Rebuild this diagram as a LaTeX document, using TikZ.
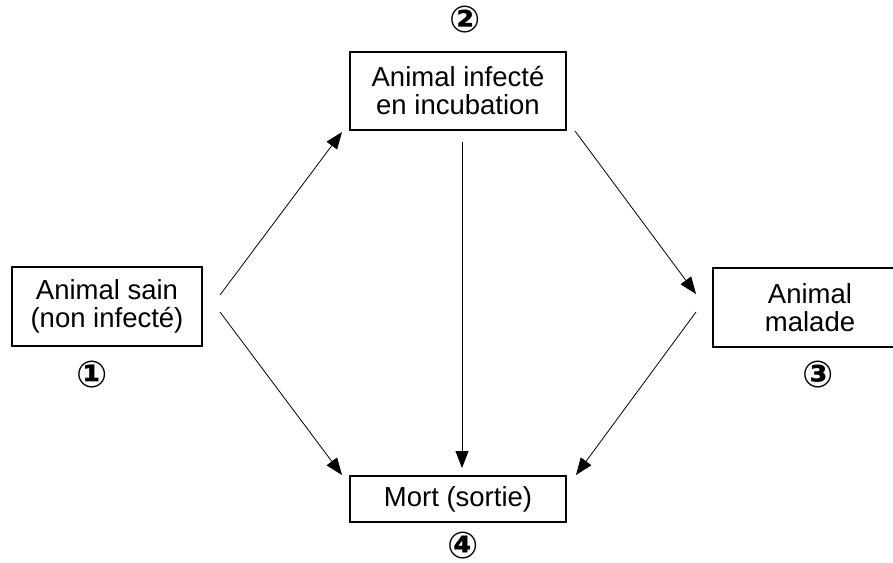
\documentclass[tikz,border=0pt]{standalone}
\usepackage{fontspec}
\setmainfont{Liberation Sans}
\newfontfamily\circfont{DejaVu Sans Bold}
\usetikzlibrary{arrows.meta}
\tikzset{
  statebox/.style={draw, line width=1.1pt, rectangle, align=center, inner sep=0pt,
    font=\fontsize{27.5}{28}\selectfont},
  num/.style={font=\circfont\fontsize{37}{37}\selectfont, inner sep=0pt, text height=22pt, text depth=3pt},
  flow/.style={line width=0.8pt, -{Triangle[length=17pt,width=13pt]}}
}
\begin{document}
\begin{tikzpicture}[x=1pt,y=-1pt]
\clip (0,0) rectangle (893,562);
\fill[white] (0,0) rectangle (893,562);
% boxes
\node[statebox, minimum width=190pt, minimum height=79pt] (sain) at (107,306.5) {Animal sain\\(non infecté)};
\node[statebox, minimum width=216pt, minimum height=78pt] (incub) at (458,91) {Animal infecté\\en incubation};
\node[statebox, minimum width=194pt, minimum height=79pt] (malade) at (810,307.5) {Animal\\malade};
\node[statebox, minimum width=216pt, minimum height=46pt] (mort) at (458,499) {Mort (sortie)};
% numbers
\node[num] (n1) at (92,378) {①};
\node[num] (n2) at (465,23) {②};
\node[num] (n3) at (818,378) {③};
\node[num] (n4) at (463,549) {④};
% connector ends
\coordinate (a1s) at (220,295);
\coordinate (a1e) at (342,132);
\coordinate (a2s) at (220,312);
\coordinate (a2e) at (342,475);
\coordinate (a3s) at (462,142);
\coordinate (a3e) at (462,468);
\coordinate (a4s) at (575,131);
\coordinate (a4e) at (696,294);
\coordinate (a5s) at (696,312);
\coordinate (a5e) at (576,475);
\draw[flow] (a1s) -- (a1e);
\draw[flow] (a2s) -- (a2e);
\draw[flow] (a3s) -- (a3e);
\draw[flow] (a4s) -- (a4e);
\draw[flow] (a5s) -- (a5e);
\end{tikzpicture}
\end{document}
